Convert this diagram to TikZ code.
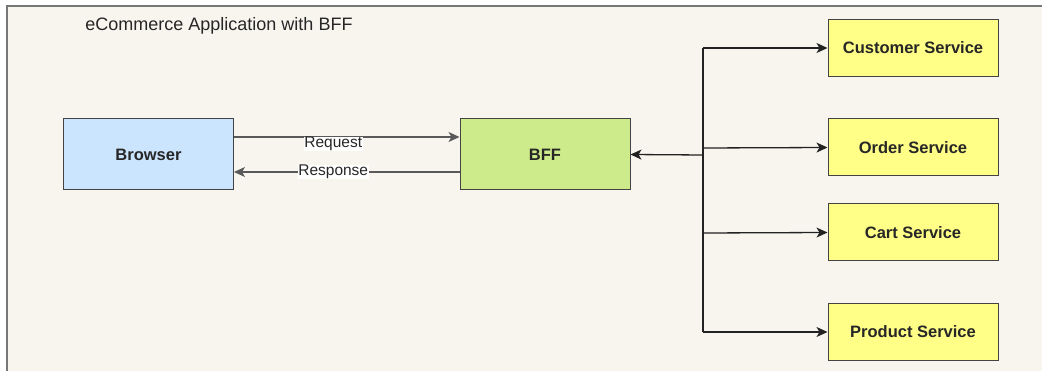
\documentclass[tikz,border=0pt]{standalone}
\usepackage{fontspec}
\setmainfont{Liberation Sans}
\usetikzlibrary{arrows.meta}
\definecolor{paper}{HTML}{F7F5EE}
\definecolor{frameline}{HTML}{777777}
\definecolor{edge}{HTML}{222222}
\definecolor{browserfill}{HTML}{CCE5FF}
\definecolor{bfffill}{HTML}{CDEB8B}
\definecolor{svcfill}{HTML}{FFFF88}
\begin{document}
\begin{tikzpicture}[x=1pt,y=-1pt,
  box/.style={draw=edge!85, line width=1pt, minimum height=71pt, minimum width=170pt,
    inner sep=0pt, font=\fontsize{16.5}{19}\selectfont\bfseries, text=black!85},
  svc/.style={box, fill=svcfill, minimum height=57pt},
  link/.style={draw=edge, line width=1.3pt, -{Stealth[length=11pt,width=10pt,inset=3pt]}},
  tag/.style={fill=white, inner sep=0.5pt, font=\fontsize{15.5}{18}\selectfont, text=black!85}]
  % page and frame
  \useasboundingbox (0,0) rectangle (1042,371);
  \fill[white] (0,0) rectangle (1042,371);
  \fill[paper] (6,5) rectangle (1042,371);
  \draw[frameline, line width=2pt] (7,371) -- (7,6) -- (1042,6);
  % title
  \node[font=\fontsize{18}{21}\selectfont, text=black!85] (title) at (219,26) {eCommerce Application with BFF};
  % main nodes
  \node[box, fill=browserfill] (browser) at (148.5,154.5) {Browser};
  \node[box, fill=bfffill] (bff) at (545,154.5) {BFF};
  \node[svc] (customer) at (913,48) {Customer Service};
  \node[svc] (order) at (913,147.5) {Order Service};
  \node[svc] (cart) at (913,232.5) {Cart Service};
  \node[svc] (product) at (913,332) {Product Service};
  % request / response
  \draw[link, draw=black!65] ([yshift=17.5pt]browser.east) -- ([yshift=17.5pt]bff.west)
    node[tag, pos=0.44, yshift=-7pt] {Request};
  \draw[link, draw=black!65] ([yshift=-17.5pt]bff.west) -- ([yshift=-17.5pt]browser.east)
    node[tag, pos=0.56] {Response};
  % fan-out to the services
  \coordinate (hub) at (703,155);
  \coordinate (top) at (703,48);
  \coordinate (bottom) at (703,332);
  \draw[edge, line width=2pt] (top) -- (bottom);
  \draw[link] (hub) -- (bff.east);
  \draw[link] (top) -- (customer.west);
  \draw[link] (703,148) -- (order.west);
  \draw[link] (703,233) -- (cart.west);
  \draw[link] (bottom) -- (product.west);
\end{tikzpicture}
\end{document}
